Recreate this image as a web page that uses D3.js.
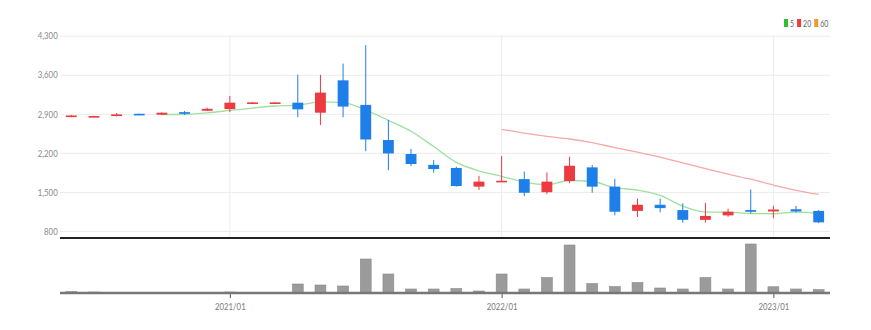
<!DOCTYPE html>
<html>
<head>
<meta charset="utf-8">
<script src="https://cdn.jsdelivr.net/npm/d3@7"></script>
<style>
body { margin: 0; background: #fff; }
text { font-family: Lato, "Noto Sans", sans-serif; }
</style>
</head>
<body>
<svg class="chart"></svg>
<script>
// monthly candles, 2020/06 .. 2023/03
var months = ["2020/06","2020/07","2020/08","2020/09","2020/10","2020/11","2020/12",
  "2021/01","2021/02","2021/03","2021/04","2021/05","2021/06","2021/07","2021/08","2021/09","2021/10","2021/11","2021/12",
  "2022/01","2022/02","2022/03","2022/04","2022/05","2022/06","2022/07","2022/08","2022/09","2022/10","2022/11","2022/12",
  "2023/01","2023/02","2023/03"];
var opens  = [2850,2850,2860,2900,2885,2930,2955, 2985,3100,3100,3100,2920,3500,3060,2430,2180,1985,1930,1595, 1690,1730,1495,1695,1940,1595,1160,1270,1175,1000,1080,1175, 1150,1190,1160];
var highs  = [2880,2865,2915,2905,2925,2950,3010, 3220,3110,3110,3600,3600,3800,4130,2790,2270,2070,1950,1790, 2145,1865,1850,2130,1985,1735,1380,1380,1295,1305,1200,1545, 1250,1250,1175];
var lows   = [2840,2845,2855,2885,2880,2880,2950, 2930,3095,3095,2840,2700,2840,2230,1890,1965,1845,1595,1535, 1680,1425,1460,1655,1485,1080,1050,1135, 950, 950,1055,1115, 1030,1130, 940];
var closes = [2870,2860,2890,2890,2920,2900,2990, 3100,3105,3105,2980,3280,3030,2440,2190,2000,1910,1605,1685, 1700,1485,1685,1970,1595,1145,1270,1210,1000,1070,1145,1145, 1185,1150, 955];
var volumes = [30,20,0,0,0,0,0, 20,0,0,180,160,140,680,380,80,80,90,40, 380,80,310,960,190,130,210,100,80,310,80,980, 125,80,70];

var priceTicks = [800,1500,2200,2900,3600,4300];
var dateTicks = ["2021/01","2022/01","2023/01"];
var maPeriods = [5,20,60];
var maColors = ["#2fbf2f","#ee3b3b","#f29a2e"];
var maLineColors = ["#9ee09e","#f5a9a9","#f7c98f"];

var width = 871, height = 330;
var left = 60, right = 830;
var svg = d3.select(".chart").attr("width", width).attr("height", height);

var x = d3.scaleBand().domain(months).range([left, right]).paddingInner(0.52).paddingOuter(0.26);
var y = d3.scaleLinear().domain([800, 4300]).range([231, 35.7]);
var yv = d3.scaleLinear().domain([0, 1000]).range([293, 243]);
var cx = function(m){ return x(m) + x.bandwidth() / 2; };

// grid
svg.append("g")
  .attr("transform", "translate(" + left + ",0)")
  .call(d3.axisLeft(y).tickValues(priceTicks).tickSize(-(right - left)).tickFormat(d3.format(",")))
  .call(function(g){
    g.select(".domain").remove();
    g.selectAll(".tick line").attr("stroke", "#ececec");
    g.selectAll(".tick text").attr("fill", "#8a8a8a").attr("font-size", 10).attr("x", -3)
      .attr("transform", "scale(0.78,1)");
  });

svg.selectAll(".vgrid").data(dateTicks).enter().append("line")
  .attr("x1", cx).attr("x2", cx).attr("y1", 35).attr("y2", 238)
  .attr("stroke", "#ececec");

// moving averages
var data = months.map(function(m, i){ return {m: m, o: opens[i], h: highs[i], l: lows[i], c: closes[i], v: volumes[i]}; });
maPeriods.forEach(function(n, k){
  var pts = [];
  for (var i = n - 1; i < data.length; i++) {
    pts.push({m: data[i].m, v: d3.mean(closes.slice(i - n + 1, i + 1))});
  }
  if (pts.length < 2) return;
  svg.append("path").datum(pts)
    .attr("fill", "none").attr("stroke", maLineColors[k]).attr("stroke-width", 1.3)
    .attr("d", d3.line().x(function(d){ return cx(d.m); }).y(function(d){ return y(d.v); }).curve(d3.curveMonotoneX));
});

// candles
var upC = "#ec3a40", downC = "#1e7fe8";
var col = function(d){ return d.c >= d.o ? upC : downC; };
var candle = svg.append("g").selectAll("g").data(data).enter().append("g");
candle.append("line")
  .attr("x1", function(d){ return cx(d.m); }).attr("x2", function(d){ return cx(d.m); })
  .attr("y1", function(d){ return y(d.h); }).attr("y2", function(d){ return y(d.l); })
  .attr("stroke", col).attr("stroke-width", 1);
candle.append("rect")
  .attr("x", function(d){ return x(d.m); })
  .attr("width", x.bandwidth())
  .attr("y", function(d){ return y(Math.max(d.o, d.c)); })
  .attr("height", function(d){ return Math.max(1.6, Math.abs(y(d.o) - y(d.c))); })
  .attr("fill", col);

// panel divider
svg.append("line").attr("x1", left).attr("x2", right).attr("y1", 238).attr("y2", 238)
  .attr("stroke", "#222").attr("stroke-width", 2);

// volume
svg.append("g").selectAll("rect").data(data.filter(function(d){ return d.v > 0; })).enter().append("rect")
  .attr("x", function(d){ return x(d.m); })
  .attr("width", x.bandwidth())
  .attr("y", function(d){ return yv(d.v); })
  .attr("height", function(d){ return yv(0) - yv(d.v); })
  .attr("fill", "#9b9b9b").attr("stroke", "#8a8a8a").attr("stroke-width", 0.6);

var xAxis = d3.axisBottom(d3.scalePoint().domain(months).range([cx(months[0]), cx(months[months.length - 1])]))
  .tickValues(dateTicks).tickSize(5).tickPadding(5);
svg.append("g").attr("transform", "translate(0,293)")
  .call(xAxis)
  .call(function(g){
    g.select(".domain").remove();
    g.selectAll(".tick line").attr("stroke", "#555");
    g.selectAll(".tick text").attr("fill", "#7a7a7a").attr("font-size", 10)
      .attr("transform", "scale(0.78,1)");
  });
svg.append("line").attr("x1", left).attr("x2", right).attr("y1", 293).attr("y2", 293)
  .attr("stroke", "#777").attr("stroke-width", 2.5);

// legend
var lg = svg.append("g").attr("transform", "translate(784,19)");
var lx = 0;
maPeriods.forEach(function(n, k){
  lg.append("rect").attr("x", lx).attr("y", 0).attr("width", 4).attr("height", 8).attr("fill", maColors[k]);
  var t = lg.append("text").attr("x", lx + 6).attr("y", 8).attr("font-size", 9).attr("fill", "#666")
    .attr("transform", "translate(" + (lx + 6) * 0.22 + ",0) scale(0.78,1)").text(n);
  lx += 6 + t.node().getComputedTextLength() * 0.78 + 3;
});
</script>
</body>
</html>
